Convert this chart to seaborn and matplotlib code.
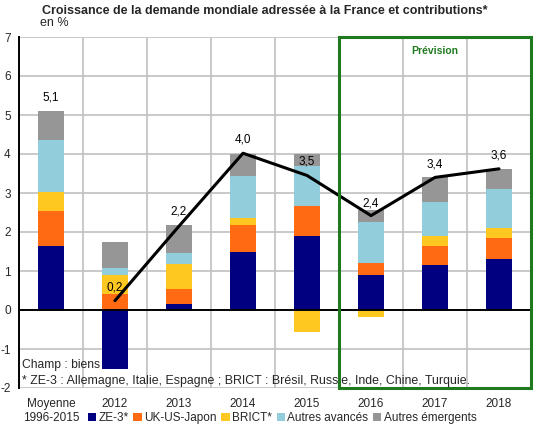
import numpy as np
import pandas as pd
import matplotlib
matplotlib.use("Agg")
import matplotlib.pyplot as plt
from matplotlib.patches import Rectangle, Patch
import seaborn as sns

categories = ["Moyenne\n1996-2015", "2012", "2013", "2014", "2015", "2016", "2017", "2018"]
ze3 = [1.64, -1.50, 0.16, 1.50, 1.91, 0.89, 1.15, 1.31]
uk_us_jp = [0.90, 0.41, 0.38, 0.68, 0.76, 0.31, 0.50, 0.53]
brict = [0.48, 0.50, 0.65, 0.17, -0.56, -0.19, 0.26, 0.27]
autres_av = [1.34, 0.16, 0.27, 1.09, 1.02, 1.06, 0.86, 0.98]
autres_em = [0.75, 0.67, 0.73, 0.57, 0.32, 0.30, 0.63, 0.53]
series_names = ["ZE-3*", "UK-US-Japon", "BRICT*", "Autres avancés", "Autres émergents"]
colors = ["#000080", "#FF6A13", "#FFC820", "#92CDDC", "#969696"]

line_years = ["2012", "2013", "2014", "2015", "2016", "2017", "2018"]
line_values = [0.24, 2.15, 4.02, 3.45, 2.42, 3.40, 3.62]
label_cats = ["Moyenne\n1996-2015", "2012", "2013", "2014", "2015", "2016", "2017", "2018"]
label_texts = ["5,1", "0,2", "2,2", "4,0", "3,5", "2,4", "3,4", "3,6"]
label_y = [5.45, 0.57, 2.52, 4.36, 3.80, 2.74, 3.74, 3.97]

sns.set_theme(style="white")
plt.rcParams["font.family"] = ["Liberation Sans", "DejaVu Sans"]

fig = plt.figure(figsize=(5.37, 4.29), dpi=100)
ax = fig.add_axes([19 / 537, 1 - 388 / 429, 512 / 537, (388 - 37) / 429])

series = [ze3, uk_us_jp, brict, autres_av, autres_em]
pos_bottom = np.zeros(len(categories))
neg_bottom = np.zeros(len(categories))
for vals, col in zip(series, colors):
    v = np.array(vals)
    bottoms = np.where(v >= 0, pos_bottom, neg_bottom)
    df = pd.DataFrame({"cat": categories, "val": v})
    sns.barplot(data=df, x="cat", y="val", order=categories, color=col,
                saturation=1, width=0.4, bottom=bottoms, ax=ax, errorbar=None,
                linewidth=0, zorder=3)
    pos_bottom = pos_bottom + np.where(v >= 0, v, 0)
    neg_bottom = neg_bottom + np.where(v < 0, v, 0)

xpos = {c: i for i, c in enumerate(categories)}
ldf = pd.DataFrame({"x": [xpos[y] for y in line_years], "y": line_values})
sns.lineplot(data=ldf, x="x", y="y", color="black", linewidth=2.2, ax=ax,
             zorder=5, sort=False)

for c, t, yy in zip(label_cats, label_texts, label_y):
    ax.text(xpos[c], yy, t, ha="center", va="center", fontsize=8.5, color="black", zorder=6)

ax.set_xlim(-0.5, 7.5)
ax.set_ylim(-2, 7)
ax.set_yticks(range(-2, 8))
ax.set_yticklabels([str(v) for v in range(-2, 8)], fontsize=8.5)
ax.set_xticks(range(len(categories)))
ax.set_xticklabels(categories, fontsize=8.5, linespacing=1.3, va="top")
ax.set_xlabel("")
ax.set_ylabel("")
ax.tick_params(axis="x", length=0, pad=7)
ax.tick_params(axis="y", length=0, pad=6)

for yv in range(-2, 8):
    ax.axhline(yv, color="#c0c0c0", lw=1.2, zorder=1)
for xv in np.arange(0.5, 7.5, 1):
    ax.axvline(xv, color="#c0c0c0", lw=1.2, zorder=1)
ax.axhline(0, color="black", lw=1.4, zorder=4)
for s in ["top", "right", "bottom"]:
    ax.spines[s].set_visible(False)
ax.spines["left"].set_color("black")
ax.spines["left"].set_linewidth(1.4)
ax.grid(False)

ax.add_patch(Rectangle((4.5, -2), 3.0, 9, fill=False, edgecolor="#1F7A1F",
                       linewidth=2.2, zorder=7, clip_on=False))
ax.text(6.0, 6.65, "Prévision", ha="center", va="center", color="#1F7A1F",
        fontsize=7.5, fontweight="bold", zorder=7)

ax.text(-0.45, -1.42, "Champ : biens", fontsize=8.7, ha="left", va="center", zorder=6)
ax.text(-0.45, -1.82, "* ZE-3 : Allemagne, Italie, Espagne ; BRICT : Brésil, Russie, Inde, Chine, Turquie.",
        fontsize=8.9, ha="left", va="center", zorder=6)

fig.text(40 / 537, 1 - 23 / 429, "en %", fontsize=9, ha="left", va="center")
fig.text(265 / 537, 1 - 11 / 429,
         "Croissance de la demande mondiale adressée à la France et contributions*",
         fontsize=9, fontweight="bold", ha="center", va="center",
         family=["Liberation Sans Narrow", "Liberation Sans", "DejaVu Sans"])

handles = [Patch(facecolor=c, edgecolor="none") for c in colors]
fig.legend(handles, series_names, loc="center left", bbox_to_anchor=(88 / 537, 1 - 418 / 429),
           ncol=5, frameon=False, fontsize=8.5, handlelength=0.7, handleheight=0.7,
           handletextpad=0.2, columnspacing=0.4, borderpad=0, borderaxespad=0)

fig.savefig("out.png", dpi=100)
